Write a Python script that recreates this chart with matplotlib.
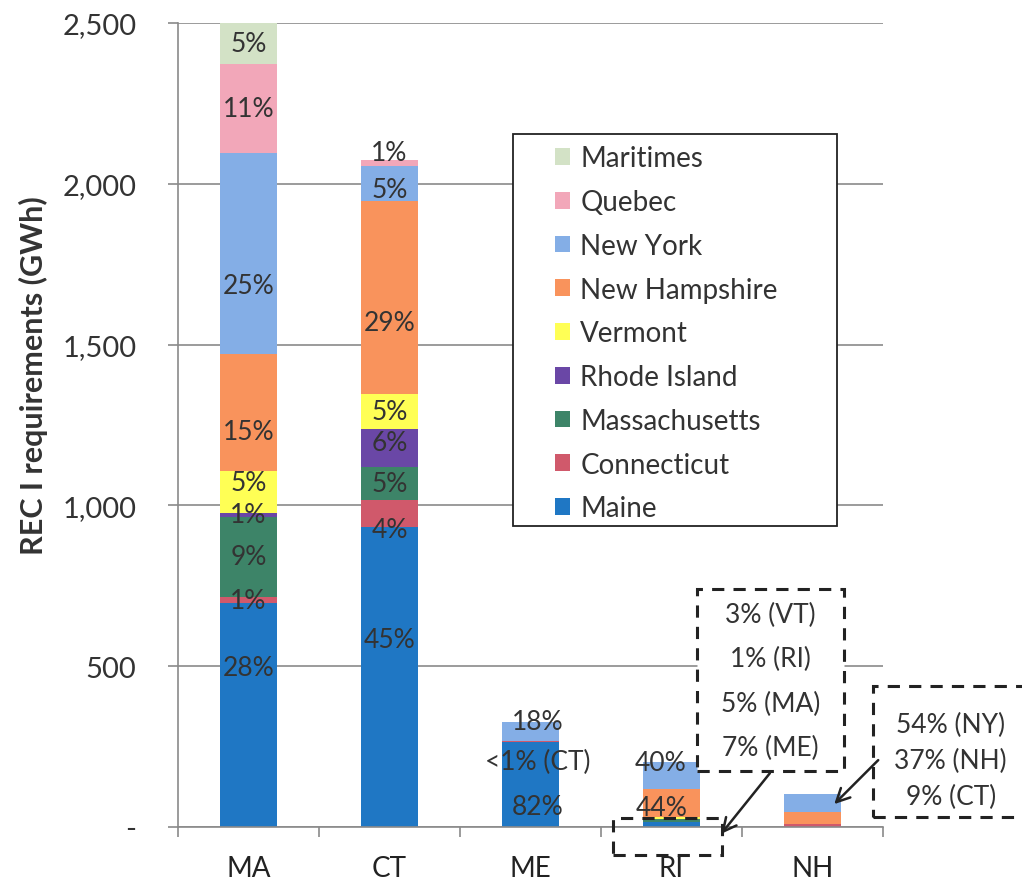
import matplotlib.pyplot as plt
from matplotlib.patches import Rectangle
from matplotlib.ticker import FuncFormatter
import numpy as np

plt.rcParams['font.family'] = ['Lato', 'DejaVu Sans']

# REC I requirements (GWh) by buying state, stacked by supplying region
states = ['MA', 'CT', 'ME', 'RI', 'NH']
sources = ['Maine', 'Connecticut', 'Massachusetts', 'Rhode Island', 'Vermont',
           'New Hampshire', 'New York', 'Quebec', 'Maritimes']

maine = [695, 932, 265, 14, 0]
connecticut = [20, 84, 2, 0, 9]
massachusetts = [250, 102, 0, 10, 0]
rhode_island = [12, 121, 0, 2, 0]
vermont = [130, 106, 0, 6, 0]
new_hampshire = [365, 602, 0, 86, 38]
new_york = [625, 108, 59, 84, 55]
quebec = [275, 20, 0, 0, 0]
maritimes = [128, 0, 0, 0, 0]

# share labels printed inside the bars ('' = no label)
lbl_maine = ['28%', '45%', '82%', '', '']
lbl_connecticut = ['1%', '4%', '<1% (CT)', '', '']
lbl_massachusetts = ['9%', '5%', '', '', '']
lbl_rhode_island = ['1%', '6%', '', '', '']
lbl_vermont = ['5%', '5%', '', '', '']
lbl_new_hampshire = ['15%', '29%', '', '44%', '']
lbl_new_york = ['25%', '5%', '18%', '40%', '']
lbl_quebec = ['11%', '1%', '', '', '']
lbl_maritimes = ['5%', '', '', '', '']

ri_note = ['3% (VT)', '1% (RI)', '5% (MA)', '7% (ME)']
nh_note = ['54% (NY)', '37% (NH)', '9% (CT)']

series = [maine, connecticut, massachusetts, rhode_island, vermont,
          new_hampshire, new_york, quebec, maritimes]
labels = [lbl_maine, lbl_connecticut, lbl_massachusetts, lbl_rhode_island,
          lbl_vermont, lbl_new_hampshire, lbl_new_york, lbl_quebec, lbl_maritimes]
colors = ['#1f77c4', '#d0596b', '#3d8468', '#6a47a6', '#ffff55',
          '#f9935c', '#84aee6', '#f2a7b9', '#d3e2c6']

# manual nudges of some labels (x in category units, y in GWh)
nudge = {(0, 0): (0, 150), (0, 4): (0, 30), (0, 5): (0, -60), (0, 6): (0, -100),
         (1, 0): (0, 118), (1, 1): (0, -50), (1, 5): (0, -78), (1, 6): (0, -20),
         (1, 7): (0, 31), (1, 3): (0, 18),
         (2, 0): (0.05, -70), (2, 1): (0.05, -61), (2, 6): (0.05, 30),
         (3, 6): (-0.08, 42), (3, 5): (-0.07, -13)}

fig = plt.figure(figsize=(10.22, 8.87), dpi=100)
ax = fig.add_axes([178 / 1022, 1 - 828 / 887, 705 / 1022, 804 / 887])

x = np.arange(len(states))
bottom = np.zeros(len(states))
for i, (vals, name, col) in enumerate(zip(series, sources, colors)):
    vals = np.array(vals, dtype=float)
    ax.bar(x, vals, 0.4, bottom=bottom, color=col, label=name, zorder=2)
    for j in range(len(states)):
        s = labels[i][j]
        if s:
            dx, dy = nudge.get((j, i), (0, 0))
            ax.text(x[j] + dx, bottom[j] + vals[j] / 2 + dy, s, ha='center',
                    va='center', fontsize=19, color='#333333', zorder=4)
    bottom += vals

ax.set_xlim(-0.5, 4.5)
ax.set_ylim(0, 2500)
ax.set_yticks(np.arange(0, 2501, 500))
ax.yaxis.set_major_formatter(FuncFormatter(lambda v, p: '-' if v == 0 else f'{int(v):,}'))
ax.yaxis.grid(True, color='#8a8a8a', lw=1.2, zorder=0)
ax.set_axisbelow(True)
ax.set_xticks(x)
ax.set_xticklabels(states)
ax.set_xticks(np.arange(-0.5, 5, 1), minor=True)
ax.tick_params(axis='x', which='major', length=0, pad=20, labelsize=20, labelcolor='#222222')
ax.tick_params(axis='x', which='minor', length=7, color='#8a8a8a', width=1.2)
ax.tick_params(axis='y', length=7, color='#8a8a8a', width=1.2, pad=23,
               labelsize=21, labelcolor='#333333')
for side in ['top', 'right']:
    ax.spines[side].set_visible(False)
for side in ['left', 'bottom']:
    ax.spines[side].set_color('#8a8a8a')
    ax.spines[side].set_linewidth(1.2)
ax.set_ylabel('REC I requirements (GWh)', fontsize=22, fontweight='bold',
              color='#333333')
ax.yaxis.set_label_coords(-0.185, 0.563)

# legend: separate frame so the padding can match the original
ax.add_patch(Rectangle((0.475, 0.374), 0.46, 0.488, transform=ax.transAxes,
                       facecolor='white', edgecolor='#222222', lw=1.3, zorder=5))
h, l = ax.get_legend_handles_labels()
leg = ax.legend(h[::-1], l[::-1], loc='upper left', bbox_to_anchor=(0.535, 0.848),
                fontsize=20, frameon=False, handlelength=0.55, handleheight=0.55,
                handletextpad=0.35, labelspacing=0.64, borderpad=0, borderaxespad=0,
                labelcolor='#333333')
leg.set_zorder(6)

# dashed call-out boxes with arrows for the two small bars
dash = dict(ls=(0, (4, 3)), lw=2.2, ec='#222222', clip_on=False, zorder=5)
ax.add_patch(Rectangle((3.18, 174), 1.04, 565, facecolor='white', **dash))
ax.add_patch(Rectangle((2.585, -87), 0.773, 115, fill=False, **dash))
ax.add_patch(Rectangle((4.43, 31), 1.3, 407, facecolor='white', **dash))
for k, s in enumerate(ri_note):
    ax.text(3.70, 661 - k * 138, s, ha='center', va='center', fontsize=19,
            color='#333333', zorder=6)
for k, s in enumerate(nh_note):
    ax.text(4.98, 320 - k * 112, s, ha='center', va='center', fontsize=19,
            color='#333333', zorder=6)
arrow = dict(arrowstyle='->', color='#222222', lw=1.8, mutation_scale=24)
ax.annotate('', xy=(3.34, -28), xytext=(3.71, 174), arrowprops=arrow,
            annotation_clip=False, zorder=6)
ax.annotate('', xy=(4.14, 65), xytext=(4.48, 214), arrowprops=arrow,
            annotation_clip=False, zorder=6)

fig.savefig('out.png', dpi=100)
